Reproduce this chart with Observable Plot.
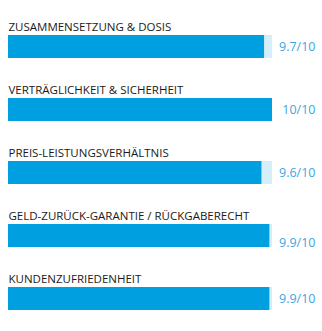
<!DOCTYPE html>
<html><head><meta charset="utf-8">
<script src="https://cdn.jsdelivr.net/npm/d3@7"></script>
<script src="https://cdn.jsdelivr.net/npm/@observablehq/plot@0.6"></script>
<style>body{margin:0;background:#fff}</style>
</head><body><div id="chart"></div>
<script>
const categories = ["ZUSAMMENSETZUNG & DOSIS","VERTRÄGLICHKEIT & SICHERHEIT","PREIS-LEISTUNGSVERHÄLTNIS","GELD-ZURÜCK-GARANTIE / RÜCKGABERECHT","KUNDENZUFRIEDENHEIT"];
const scores = [9.7, 10, 9.6, 9.9, 9.9];
const maxScore = 10;
const valueLabels = ["9.7/10","10/10","9.6/10","9.9/10","9.9/10"];
const data = categories.map((c,i)=>({cat:c, score:scores[i], max:maxScore, label:valueLabels[i]}));
const chart = Plot.plot({
  width: 322, height: 331,
  marginLeft: 0, marginRight: 7, marginTop: 0, marginBottom: 0,
  style: {fontFamily: "'Open Sans', sans-serif", background: "#fff"},
  x: {domain: [0, 10], range: [8, 272], axis: null},
  y: {type: "band", domain: categories, range: [15, 330], padding: 0, axis: null},
  marks: [
    Plot.barX(data, {x: "max", y: "cat", fill: "#d6eefa", insetTop: 20, insetBottom: 20}),
    Plot.barX(data, {x: "score", y: "cat", fill: "#009fe0", insetTop: 20, insetBottom: 20}),
    Plot.text(data, {x: 0, y: "cat", text: "cat", textAnchor: "start", lineAnchor: "bottom", dy: -16.5, fontSize: 11.5, fill: "#1a1a1a", style: "letter-spacing:0.15px"}),
    Plot.text(data.filter((d,i)=>i!==3), {y: "cat", text: "label", frameAnchor: "right", textAnchor: "end", fontSize: 12.5, fill: "#3ba6e4"}),
    Plot.text(data.filter((d,i)=>i===3), {y: "cat", text: "label", frameAnchor: "right", textAnchor: "end", fontSize: 12.5, fill: "#3ba6e4", dy: 7})
  ]
});
document.getElementById("chart").append(chart);
</script></body></html>
